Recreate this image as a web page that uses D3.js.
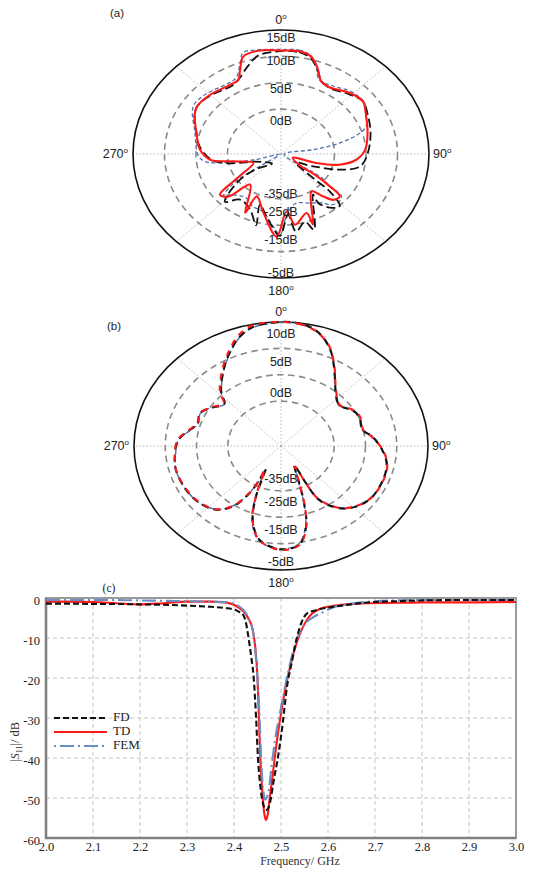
<!DOCTYPE html>
<html>
<head>
<meta charset="utf-8">
<script src="https://cdn.jsdelivr.net/npm/d3@7"></script>
<style>
  body { margin: 0; background: #fff; }
  svg { display: block; }
  .pol text { font-family: "Liberation Sans", Arial, sans-serif; font-size: 12.5px; fill: #222; }
  .rect text { font-family: "Liberation Serif", "Times New Roman", serif; }
</style>
</head>
<body>
<div id="chart"></div>
<script>
// ---- panel (a) radiation pattern: angle (deg, clockwise from top) and gain (dB)
var aTD_ang = [0, 8.5, 14.4, 19.6, 24.7, 31.2, 43.2, 52.4, 61.1, 73.9, 86.5, 95.2, 102.3, 107, 110, 126, 126, 128.3, 130.6, 136.4, 140.7, 145.8, 159.2, 160, 170.5, 175.2, 182.5, 194, 205.6, 207, 220, 226, 231.5, 235.5, 239, 248.7, 259.5, 264.5, 273.7, 286.5, 298.6, 304, 314.9, 328.3, 334.2, 337.8, 342, 350.3]
var aTD_db  = [11.1, 11.2, 10.6, 8.8, 6.7, 6.3, 7.4, 7.9, 6.9, 5.8, 4.9, 3.5, 1.0, -2.7, -6.5, -4.8, -1.8, 1.4, 3.8, 3.5, 1.7, 0.1, 5.8, 3.4, 5.1, 2.4, 7.2, 3.0, 0.4, 4.0, -0.9, 3.1, 3.9, 0.7, -1.5, -3.8, -0.8, 2.8, 4.4, 5.5, 7.1, 7.6, 7.4, 6.9, 7.1, 8.7, 10.9, 11.4]

var aFD_ang = [0, 8.5, 14.4, 19.6, 24.7, 31.2, 43.2, 52.4, 61.1, 73.9, 89, 100.6, 107.6, 114.6, 124.5, 132, 132.6, 136.7, 142.6, 147.5, 146.6, 159.9, 163.5, 170.8, 174.5, 180.6, 189.4, 199.2, 196.3, 205, 216.9, 224.5, 232.5, 234.2, 218, 250.6, 255.9, 259.1, 264.4, 276.3, 286.5, 298.5, 304.8, 316, 329, 334.8, 342.6, 349]
var aFD_db  = [11.0, 11.0, 10.3, 8.6, 6.8, 6.2, 7.1, 7.9, 7.2, 6.3, 5.3, 4.3, 1.3, -2.9, -5.5, -1.2, 2.1, 5.1, 4.3, 2.5, 0.7, 6.8, 4.9, 6.4, 3.1, 7.0, 4.1, 1.7, 5.6, 3.1, 2.3, 4.2, 0.1, -3.4, -6.2, -4.1, -1.5, 0.6, 2.6, 4.5, 5.5, 7.1, 7.6, 7.2, 6.6, 7.2, 9.0, 10.5]

var aFEM_ang = [0, 8.4, 13.4, 18.5, 23.4, 32.3, 44.2, 53.9, 62.1, 68.8, 72.4, 77.4, 80.9, 90, 127, 124.4, 128.3, 129.8, 135.6, 141, 144.3, 153.6, 166.7, 177, 180.5, 187.7, 194.7, 204, 213.2, 226.4, 228.7, 233.2, 235.6, 234.8, 250, 255.5, 259.2, 263.4, 269.4, 286, 302.9, 312.9, 327.7, 333.7, 338.7, 342.6, 351.3]
var aFEM_db  = [11.3, 11.4, 10.9, 9.0, 6.8, 6.8, 7.8, 7.9, 6.8, 6.0, 4.7, 1.1, -3.3, -8.0, -6.7, -1.0, 1.4, 4.0, 4.4, 3.9, 2.9, 1.9, 1.2, 4.0, 6.8, 4.4, 2.8, 2.4, 1.5, 2.7, 3.7, 1.2, -2.6, -6.0, -8.2, -4.2, 0.1, 3.7, 4.7, 5.7, 8.1, 8.0, 7.3, 7.6, 9.5, 11.6, 11.5]

// ---- panel (b)
var b_ang = [0, 7.2, 14.3, 22.3, 29.6, 39.6, 50.2, 59.2, 66.1, 76.9, 83.1, 92.7, 101, 109.4, 123.3, 133.8, 141.8, 149.2, 150.5, 149.5, 157.5, 161.1, 165.3, 171.1, 180, 191, 197.9, 202.6, 209.5, 208.3, 209.4, 213.9, 220.6, 230.2, 241.2, 254.9, 263.2, 273.9, 281.7, 287.8, 295.4, 301.9, 311.7, 316.2, 325.9, 334.8, 342.2, 348.7]
var bFD_db  = [15.0, 14.9, 14.1, 11.8, 8.7, 5.2, 3.6, 4.8, 5.2, 4.9, 6.2, 7.7, 8.7, 9.0, 9.0, 8.1, 6.5, 3.4, -0.4, -4.3, -0.9, 2.9, 7.3, 10.4, 11.1, 9.6, 6.2, 1.9, -3.6, -1.2, 1.8, 5.3, 7.4, 8.4, 8.8, 8.9, 8.6, 8.0, 6.4, 5.5, 5.9, 5.0, 3.6, 5.3, 8.1, 10.9, 13.2, 14.5]
var bTD_db  = [15.0, 14.8, 14.0, 11.9, 8.8, 5.3, 3.7, 4.9, 5.3, 5.0, 6.1, 7.8, 8.8, 9.1, 9.0, 8.0, 6.4, 3.2, -0.6, -4.0, -1.0, 3.0, 7.4, 10.5, 11.2, 9.7, 6.3, 2.0, -3.3, -1.3, 1.6, 5.1, 7.3, 8.3, 8.7, 8.9, 8.6, 8.1, 6.5, 5.6, 5.8, 5.1, 3.8, 5.6, 8.4, 11.2, 13.6, 14.8]
var bFEM_db = [14.9, 14.8, 14.0, 11.7, 8.6, 5.1, 3.5, 4.7, 5.1, 4.8, 6.3, 7.8, 8.8, 9.1, 8.9, 8.0, 6.3, 3.0, -0.8, -3.8, -1.2, 2.6, 7.0, 10.2, 11.0, 9.8, 6.6, 2.4, -3.0, -1.6, 1.5, 5.1, 7.3, 8.4, 8.8, 8.9, 8.5, 7.9, 6.3, 5.4, 5.8, 5.0, 3.5, 5.2, 8.0, 10.8, 13.1, 14.4]

var ringVals = [0, 5, 10]          // dashed rings, outer ring = 15
var spokeAngles = [0, 45, 90, 135, 180, 225, 270, 315]
var degLabels = ["0", "90", "180", "270"]
var aTopLabels = ["15dB", "10dB", "5dB", "0dB"]
var aBotLabels = ["-35dB", "-25dB", "-15dB", "-5dB"]
var bTopLabels = ["10dB", "5dB", "0dB"]
var bBotLabels = ["-35dB", "-25dB", "-15dB", "-5dB"]

// ---- panel (c) S11 (GHz, dB)
var fFD  = [2.0, 2.05, 2.1, 2.15, 2.2, 2.25, 2.3, 2.35, 2.38, 2.4, 2.41, 2.42, 2.425, 2.431, 2.437, 2.442, 2.447, 2.451, 2.456, 2.462, 2.469, 2.476, 2.484, 2.495, 2.504, 2.512, 2.523, 2.534, 2.544, 2.555, 2.573, 2.6, 2.63, 2.66, 2.7, 2.75, 2.8, 2.9, 3.0]
var s11FD = [-1.4, -1.4, -1.5, -1.5, -1.6, -1.7, -1.9, -2.2, -2.5, -2.9, -3.4, -4.3, -6, -10, -15, -20, -30, -40, -47, -51.5, -53, -51.5, -46, -38.7, -31, -22.8, -16, -9.8, -6, -3.9, -3.1, -2.4, -1.9, -1.4, -1.0, -0.8, -0.6, -0.5, -0.5]
var fTD  = [2.0, 2.05, 2.1, 2.15, 2.2, 2.25, 2.3, 2.35, 2.38, 2.4, 2.41, 2.42, 2.43, 2.44, 2.445, 2.45, 2.453, 2.456, 2.46, 2.464, 2.468, 2.472, 2.476, 2.48, 2.488, 2.498, 2.509, 2.52, 2.534, 2.548, 2.566, 2.583, 2.61, 2.64, 2.68, 2.75, 2.8, 2.9, 3.0]
var s11TD = [-0.9, -0.9, -1.0, -1.3, -1.6, -1.3, -0.9, -0.9, -1.1, -1.7, -2.4, -3.3, -5, -8, -12, -20, -30, -40, -48, -53.5, -55.5, -54, -50, -46.5, -38.7, -30.3, -22.8, -16.9, -11, -6.9, -3.9, -2.7, -2.0, -1.6, -1.3, -1.2, -1.1, -1.1, -1.0]
var fFEM = [2.0, 2.05, 2.1, 2.15, 2.2, 2.25, 2.3, 2.35, 2.38, 2.4, 2.41, 2.42, 2.43, 2.442, 2.449, 2.454, 2.458, 2.463, 2.466, 2.473, 2.48, 2.488, 2.498, 2.509, 2.52, 2.534, 2.548, 2.569, 2.59, 2.612, 2.64, 2.67, 2.7, 2.75, 2.8, 2.9, 3.0]
var s11FEM = [-0.5, -0.5, -0.5, -0.5, -0.6, -0.7, -0.8, -0.9, -1.0, -1.4, -2, -3, -4.8, -9.4, -18.6, -28.6, -41, -48.7, -50.4, -48.7, -42, -35, -28.6, -22, -16, -10.2, -6.9, -4.8, -3.5, -2.3, -1.6, -1.1, -0.8, -0.6, -0.5, -0.5, -0.5]
var xTicks = [2.0, 2.1, 2.2, 2.3, 2.4, 2.5, 2.6, 2.7, 2.8, 2.9, 3.0]
var yTicks = [0, -10, -20, -30, -40, -50, -60]
var legendNames = ["FD", "TD", "FEM"]

var W = 551, H = 869
var svg = d3.select("#chart").append("svg").attr("width", W).attr("height", H)

var rs = d3.scaleLinear().domain([-8.5, 15]).range([0, 1])

function polarPanel(cx, cy, rx, ry, tag, tagPos, topLabels, topPos, botLabels, botPos, series) {
  var g = svg.append("g").attr("class", "pol")
  var rad = Math.PI / 180

  // spokes
  g.selectAll(".spoke").data(spokeAngles).enter().append("line")
    .attr("x1", cx).attr("y1", cy)
    .attr("x2", function(a) { return cx + rx * Math.sin(a * rad) })
    .attr("y2", function(a) { return cy - ry * Math.cos(a * rad) })
    .attr("stroke", "#b0b0b0").attr("stroke-width", 0.9).attr("stroke-dasharray", "1.5,2")

  // rings
  g.selectAll(".ring").data(ringVals).enter().append("ellipse")
    .attr("cx", cx).attr("cy", cy)
    .attr("rx", function(v) { return rx * rs(v) })
    .attr("ry", function(v) { return ry * rs(v) })
    .attr("fill", "none").attr("stroke", "#8a8a8a").attr("stroke-width", 1.6)
    .attr("stroke-dasharray", "6.5,4.5")

  g.append("ellipse").attr("cx", cx).attr("cy", cy).attr("rx", rx).attr("ry", ry)
    .attr("fill", "none").attr("stroke", "#111").attr("stroke-width", 1.6)

  // curves
  var line = d3.line()
    .x(function(d) { return cx + rx * rs(d[1]) * Math.sin(d[0] * rad) })
    .y(function(d) { return cy - ry * rs(d[1]) * Math.cos(d[0] * rad) })
    .curve(d3.curveCatmullRomClosed.alpha(0.5))

  series.forEach(function(s) {
    g.append("path")
      .datum(d3.zip(s.ang, s.db))
      .attr("d", line)
      .attr("fill", "none")
      .attr("stroke", s.color)
      .attr("stroke-width", s.width)
      .attr("stroke-dasharray", s.dash)
      .attr("stroke-dashoffset", s.offset || 0)
  })

  // radial labels
  g.selectAll(".tl").data(topLabels).enter().append("text")
    .attr("x", cx).attr("y", function(d, i) { return cy + topPos[i] * ry })
    .attr("text-anchor", "middle").attr("dominant-baseline", "middle")
    .text(function(d) { return d })
  g.selectAll(".bl").data(botLabels).enter().append("text")
    .attr("x", cx).attr("y", function(d, i) { return cy + botPos[i] * ry })
    .attr("text-anchor", "middle").attr("dominant-baseline", "middle")
    .text(function(d) { return d })

  // degree labels
  var dpos = [
    {x: cx, y: cy - ry - 9, a: "middle"},
    {x: cx + rx + 4, y: cy + 1, a: "start"},
    {x: cx, y: cy + ry + 14, a: "middle"},
    {x: cx - rx - 5, y: cy + 1, a: "end"}
  ]
  degLabels.forEach(function(t, i) {
    var tx = g.append("text").attr("x", dpos[i].x).attr("y", dpos[i].y)
      .attr("text-anchor", dpos[i].a).attr("dominant-baseline", "middle")
    tx.append("tspan").text(t)
    tx.append("tspan").attr("font-size", "8px").attr("dy", -4).text("o")
  })

  g.append("text").attr("x", tagPos[0]).attr("y", tagPos[1])
    .attr("dominant-baseline", "middle").style("font-size", "11.5px").text(tag)
}

polarPanel(281, 154, 148, 124, "(a)", [110, 14],
  aTopLabels, [-0.927, -0.742, -0.516, -0.258],
  aBotLabels, [0.33, 0.476, 0.70, 0.968],
  [
    {ang: aFEM_ang, db: aFEM_db, color: "#4e72aa", width: 1.3, dash: "4,2.5"},
    {ang: aFD_ang, db: aFD_db, color: "#111", width: 1.8, dash: "9,4"},
    {ang: aTD_ang, db: aTD_db, color: "#ff1a1a", width: 2.1, dash: null}
  ])

polarPanel(281, 446, 147, 124, "(b)", [107, 327],
  bTopLabels, [-0.90, -0.67, -0.42],
  bBotLabels, [0.27, 0.46, 0.68, 0.94],
  [
    {ang: b_ang, db: bFEM_db, color: "#4e72aa", width: 1.4, dash: "5,3"},
    {ang: b_ang, db: bFD_db, color: "#111", width: 2.1, dash: "7,5", offset: 6},
    {ang: b_ang, db: bTD_db, color: "#ff1a1a", width: 2.1, dash: "6,6"}
  ])

// ---- panel (c)
var pl = {x0: 46, x1: 516, y0: 598, y1: 838}
var x = d3.scaleLinear().domain([2.0, 3.0]).range([pl.x0, pl.x1])
var y = d3.scaleLinear().domain([0, -60]).range([pl.y0, pl.y1])
var gc = svg.append("g").attr("class", "rect")

gc.selectAll(".vg").data(xTicks.slice(1, -1)).enter().append("line")
  .attr("x1", function(d) { return x(d) }).attr("x2", function(d) { return x(d) })
  .attr("y1", pl.y0).attr("y2", pl.y1)
  .attr("stroke", "#c4c4c4").attr("stroke-width", 1).attr("stroke-dasharray", "4,3")
gc.selectAll(".hg").data(yTicks.slice(1, -1)).enter().append("line")
  .attr("y1", function(d) { return y(d) }).attr("y2", function(d) { return y(d) })
  .attr("x1", pl.x0).attr("x2", pl.x1)
  .attr("stroke", "#c4c4c4").attr("stroke-width", 1).attr("stroke-dasharray", "4,3")

var xAxis = gc.append("g").attr("transform", "translate(0," + pl.y1 + ")")
  .call(d3.axisBottom(x).tickValues(xTicks).tickFormat(d3.format(".1f")).tickSize(0).tickPadding(4))
var yAxis = gc.append("g").attr("transform", "translate(" + pl.x0 + ",2)")
  .call(d3.axisLeft(y).tickValues(yTicks).tickFormat(function(d) { return d }).tickSize(0).tickPadding(6))
;[xAxis, yAxis].forEach(function(a) {
  a.select(".domain").remove()
  a.selectAll("text").attr("font-family", "Liberation Serif, serif").attr("font-size", "12.5px").attr("fill", "#222")
})

gc.append("rect").attr("x", pl.x0).attr("y", pl.y0)
  .attr("width", pl.x1 - pl.x0).attr("height", pl.y1 - pl.y0)
  .attr("fill", "none").attr("stroke", "#9a9a9a").attr("stroke-width", 2)
gc.append("path").attr("d", "M" + pl.x0 + "," + pl.y0 + "V" + pl.y1 + "H" + pl.x1)
  .attr("fill", "none").attr("stroke", "#808080").attr("stroke-width", 2.6)

var sline = d3.line()
  .x(function(d) { return x(d[0]) })
  .y(function(d) { return y(d[1]) })
  .curve(d3.curveMonotoneX)

var cSeries = [
  {name: "TD", f: fTD, v: s11TD, color: "#ff1a1a", dash: null},
  {name: "FEM", f: fFEM, v: s11FEM, color: "#6a8dc4", dash: "14,4,2,4"},
  {name: "FD", f: fFD, v: s11FD, color: "#111", dash: "6,3"}
]
cSeries.forEach(function(s) {
  gc.append("path").datum(d3.zip(s.f, s.v)).attr("d", sline)
    .attr("fill", "none").attr("stroke", s.color).attr("stroke-width", 2.1)
    .attr("stroke-dasharray", s.dash)
})

// legend
var legStyle = {FD: cSeries[2], TD: cSeries[0], FEM: cSeries[1]}
var leg = gc.selectAll(".leg").data(legendNames).enter().append("g")
  .attr("transform", function(d, i) { return "translate(54," + (718 + i * 14) + ")" })
leg.append("line").attr("x1", 0).attr("x2", 53).attr("y1", 0).attr("y2", 0)
  .attr("stroke", function(d) { return legStyle[d].color })
  .attr("stroke-width", 2.1)
  .attr("stroke-dasharray", function(d) { return d === "FEM" ? "2,4,14,4" : legStyle[d].dash })
leg.append("text").attr("x", 59).attr("y", 0).attr("dominant-baseline", "middle")
  .attr("font-size", "13px").attr("fill", "#222").text(function(d) { return d })

// axis titles
var yt = gc.append("text").attr("transform", "translate(19,742) rotate(-90)")
  .attr("text-anchor", "middle").attr("font-size", "12.5px").attr("fill", "#333")
yt.append("tspan").text("|")
yt.append("tspan").attr("font-style", "italic").text("S")
yt.append("tspan").attr("font-size", "8px").attr("dy", 3).text("11")
yt.append("tspan").attr("dy", -3).text("|/ dB")

gc.append("text").attr("x", 300).attr("y", 865).attr("text-anchor", "middle")
  .attr("font-size", "12px").attr("fill", "#333").text("Frequency/ GHz")

gc.append("text").attr("x", 109).attr("y", 589).attr("text-anchor", "middle")
  .attr("dominant-baseline", "middle")
  .attr("font-family", "Liberation Sans, Arial, sans-serif").attr("font-size", "11.5px")
  .attr("fill", "#222").text("(c)")
</script>
</body>
</html>
